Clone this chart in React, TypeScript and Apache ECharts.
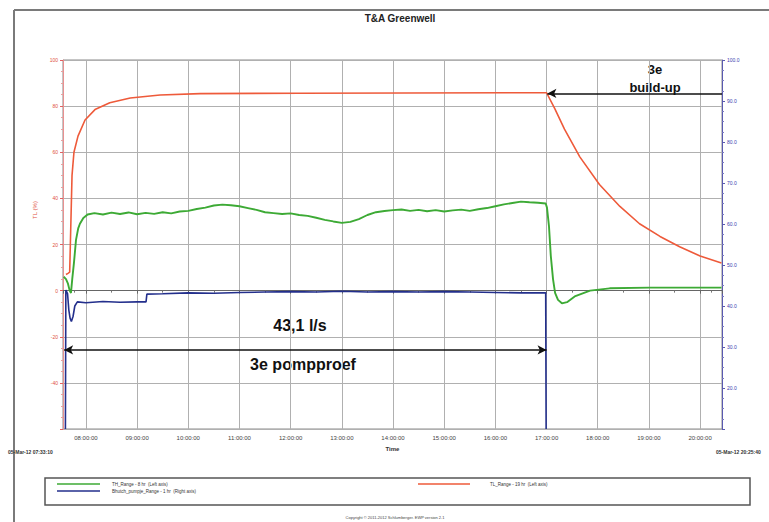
import React, { useEffect, useRef } from "react";
import * as echarts from "echarts";

const DAY = [2012, 2, 5];
const T_START = "07:33:10";
const T_END = "20:25:40";

const redTimes = ["07:36:40","07:39:00","07:41:00","07:43:45","07:46:00","07:50:45","07:59:00","08:10:40","08:28:00","08:52:00","09:27:00","10:14:00","12:11:00","17:00:00","17:09:30","17:21:00","17:39:00","18:02:00","18:26:00","18:49:00","19:13:00","19:36:00","20:00:00","20:25:00"];
const redValues = [7,7.5,8,50,60,67,74,78.5,81.5,83.5,84.8,85.4,85.6,85.8,79,70,58,46,36.5,29,23.5,19,15,12];

const greenTimes = ["07:34:00","07:36:41","07:39:00","07:41:00","07:42:30","07:44:00","07:46:00","07:48:25","07:51:00","07:53:00","07:57:00","08:02:00",
"08:10","08:20","08:30","08:40","08:50","09:00","09:10","09:20","09:30","09:40","09:50","10:00","10:10","10:20","10:30","10:40","10:50","11:00","11:10","11:20","11:30","11:40","11:50","12:00","12:10","12:20","12:30","12:40","12:50","13:00","13:10","13:20","13:30","13:40","13:50","14:00","14:10","14:20","14:30","14:40","14:50","15:00","15:10","15:20","15:30","15:40","15:50","16:00","16:10","16:20","16:30","16:40","16:50","16:59",
"17:00:30","17:02:50","17:05:00","17:07:35","17:10:00","17:13:25","17:18:00","17:24:00","17:33:00","17:51:00","18:14:00","19:01:00","20:25:00"];
const greenValues = [6,5,3,0,-1,5,12,22,27,29,31.5,33,
33.6,33.0,33.8,33.2,33.9,33.1,33.7,33.3,34.0,33.5,34.3,34.6,35.4,36.0,36.9,37.3,37.0,36.6,35.8,35.0,34.0,33.6,33.2,33.5,32.8,32.4,31.6,30.7,30.0,29.4,29.8,31.0,32.8,34.0,34.5,34.9,35.2,34.6,35.0,34.4,34.9,34.3,34.8,35.1,34.6,35.3,35.8,36.6,37.4,38.0,38.6,38.3,38.1,37.8,
36,28,15,5,-1,-4,-5.5,-5,-2.5,0,1,1.3,1.3];

const blueTimes = ["07:36:00","07:36:30","07:38:30","07:40:00","07:41:30","07:43:00","07:45:00","07:47:00","07:50:00","08:00","08:20","08:40","09:00","09:10:30","09:11:30","09:30","10:00","10:30","11:00","11:30","12:00","12:30","13:00","13:30","14:00","14:30","15:00","15:30","16:00","16:30","16:59","16:59:30"];
const blueValues = [10,43.9,43.0,39,37,36.2,37.5,40.0,41.0,40.8,41.1,40.9,41.0,41.0,42.9,43.0,43.2,43.1,43.3,43.4,43.5,43.4,43.6,43.4,43.5,43.4,43.5,43.4,43.3,43.2,43.2,10];

const leftTicks = { min: -60, max: 100, interval: 20 };
const rightTicks = { min: 10, max: 100, interval: 10 };

const ARROW_PUMP = { from: "07:34:30", to: "17:00:00", level: -25.7 };
const ARROW_BUILD = { from: "20:25:40", to: "17:01:00", level: 85.5 };

function ts(hms: string) {
  const p = hms.split(":").map(Number);
  return Date.UTC(DAY[0], DAY[1], DAY[2], p[0], p[1], p[2] || 0);
}
function pad(n: number) {
  return n < 10 ? "0" + n : "" + n;
}
function zip(t: string[], v: number[]) {
  return t.map((x, i) => [ts(x), v[i]]);
}

export default function App() {
  const ref = useRef<HTMLDivElement>(null);
  useEffect(() => {
    const chart = echarts.init(ref.current!, null, { renderer: "svg" });
    const font = "Arial, 'Liberation Sans', sans-serif";
    chart.setOption({
      animation: false,
      useUTC: true,
      backgroundColor: "#ffffff",
      grid: {
        left: 63, right: 47, top: 60, bottom: 93, show: true,
        borderColor: "#8a8a8a", borderWidth: 1,
      },
      xAxis: {
        type: "time",
        min: ts(T_START),
        max: ts(T_END),
        minInterval: 3600000,
        maxInterval: 3600000,
        name: "Time",
        nameLocation: "middle",
        nameGap: 17,
        nameTextStyle: { fontSize: 6, fontWeight: "bold", color: "#333", fontFamily: font },
        axisLine: { lineStyle: { color: "#666" } },
        axisTick: { show: true, length: 3, lineStyle: { color: "#666" } },
        minorTick: { show: true, splitNumber: 2, length: 2, lineStyle: { color: "#777" } },
        axisLabel: {
          fontSize: 6, color: "#444", fontFamily: font, margin: 6,
          showMinLabel: false, showMaxLabel: false,
          formatter: (val: number) => {
            const d = new Date(val);
            return pad(d.getUTCHours()) + ":" + pad(d.getUTCMinutes()) + ":" + pad(d.getUTCSeconds());
          },
        },
        splitLine: { show: true, lineStyle: { color: "#b0b0b0", width: 1 } },
      },
      yAxis: [
        {
          type: "value",
          min: leftTicks.min, max: leftTicks.max, interval: leftTicks.interval,
          axisLine: { show: true, lineStyle: { color: "#e89090" } },
          axisTick: { show: true, length: 3, lineStyle: { color: "#e06060" } },
          minorTick: { show: true, splitNumber: 4, length: 2, lineStyle: { color: "#e8a0a0" } },
          axisLabel: { fontSize: 5, color: "#e05040", fontFamily: font, showMinLabel: false, margin: 5 },
          splitLine: { show: true, lineStyle: { color: "#b0b0b0", width: 1 } },
        },
        {
          type: "value",
          min: rightTicks.min, max: rightTicks.max, interval: rightTicks.interval,
          position: "right",
          axisLine: { show: true, lineStyle: { color: "#5a5ab0" } },
          axisTick: { show: true, length: 3, lineStyle: { color: "#5a5ab0" } },
          minorTick: { show: true, splitNumber: 4, length: 2, lineStyle: { color: "#7a7ac0" } },
          axisLabel: {
            fontSize: 5, color: "#3b3bb0", fontFamily: font, showMinLabel: false, margin: 5,
            formatter: (v: number) => v.toFixed(1),
          },
          splitLine: { show: false },
        },
      ],
      series: [
        {
          name: "TH_Range",
          type: "line",
          yAxisIndex: 0,
          showSymbol: false,
          symbol: "none",
          data: zip(greenTimes, greenValues),
          lineStyle: { color: "#3daa35", width: 1.9 },
          z: 3,
        },
        {
          name: "Bhutch_pumpje_Range",
          type: "line",
          yAxisIndex: 1,
          showSymbol: false,
          symbol: "none",
          data: zip(blueTimes, blueValues),
          lineStyle: { color: "#232f8c", width: 1.6 },
          z: 4,
        },
        {
          name: "TL_Range",
          type: "line",
          yAxisIndex: 0,
          showSymbol: false,
          symbol: "none",
          data: zip(redTimes, redValues),
          lineStyle: { color: "#ee5a3a", width: 1.6 },
          z: 3,
          markLine: {
            silent: true,
            symbolSize: [7, 9],
            label: { show: false },
            lineStyle: { color: "#111", width: 1.5, type: "solid" },
            data: [
              [
                { coord: [ts(ARROW_PUMP.from), ARROW_PUMP.level], symbol: "arrow" },
                { coord: [ts(ARROW_PUMP.to), ARROW_PUMP.level], symbol: "arrow" },
              ],
              [
                { coord: [ts(ARROW_BUILD.from), ARROW_BUILD.level], symbol: "none" },
                { coord: [ts(ARROW_BUILD.to), ARROW_BUILD.level], symbol: "arrow" },
              ],
            ],
          },
        },
      ],
      graphic: [
        { type: "line", shape: { x1: 14, y1: 10, x2: 769, y2: 10 }, style: { stroke: "#7a7a7a", lineWidth: 2 } },
        { type: "line", shape: { x1: 14, y1: 10, x2: 14, y2: 522 }, style: { stroke: "#7a7a7a", lineWidth: 2 } },
        { type: "text", x: 400, y: 18, style: { text: "T&A Greenwell", font: "bold 10px Arial, 'Liberation Sans', sans-serif", fill: "#222", textAlign: "center", textVerticalAlign: "middle" } },
        { type: "text", x: 35, y: 210, rotation: Math.PI / 2, style: { text: "TL (%)", font: "6px Arial, 'Liberation Sans', sans-serif", fill: "#e05040", textAlign: "center", textVerticalAlign: "middle" } },
        { type: "text", x: 300, y: 325, style: { text: "43,1 l/s", font: "bold 16px Arial, 'Liberation Sans', sans-serif", fill: "#111", textAlign: "center", textVerticalAlign: "middle" } },
        { type: "text", x: 303, y: 364, style: { text: "3e pompproef", font: "bold 16px Arial, 'Liberation Sans', sans-serif", fill: "#111", textAlign: "center", textVerticalAlign: "middle" } },
        { type: "text", x: 655, y: 69, style: { text: "3e", font: "bold 13px Arial, 'Liberation Sans', sans-serif", fill: "#111", textAlign: "center", textVerticalAlign: "middle" } },
        { type: "text", x: 655, y: 87, style: { text: "build-up", font: "bold 13px Arial, 'Liberation Sans', sans-serif", fill: "#111", textAlign: "center", textVerticalAlign: "middle" } },
        { type: "text", x: 8, y: 452, style: { text: "05-Mar-12 07:33:10", font: "bold 5px Arial, 'Liberation Sans', sans-serif", fill: "#333", textVerticalAlign: "middle" } },
        { type: "text", x: 716, y: 452, style: { text: "05-Mar-12 20:25:40", font: "bold 5px Arial, 'Liberation Sans', sans-serif", fill: "#333", textVerticalAlign: "middle" } },
        { type: "rect", shape: { x: 45, y: 478, width: 705, height: 27 }, style: { fill: "none", stroke: "#555", lineWidth: 1.5 } },
        { type: "line", shape: { x1: 57, y1: 484, x2: 100, y2: 484 }, style: { stroke: "#3daa35", lineWidth: 1.6 } },
        { type: "line", shape: { x1: 57, y1: 491, x2: 100, y2: 491 }, style: { stroke: "#232f8c", lineWidth: 1.6 } },
        { type: "line", shape: { x1: 418, y1: 484, x2: 470, y2: 484 }, style: { stroke: "#ee5a3a", lineWidth: 1.6 } },
        { type: "text", x: 112, y: 484, style: { text: "TH_Range - 8 hr  (Left axis)", font: "4.5px Arial, 'Liberation Sans', sans-serif", fill: "#333", textVerticalAlign: "middle" } },
        { type: "text", x: 112, y: 491, style: { text: "Bhutch_pumpje_Range - 1 hr  (Right axis)", font: "4.5px Arial, 'Liberation Sans', sans-serif", fill: "#333", textVerticalAlign: "middle" } },
        { type: "text", x: 490, y: 484, style: { text: "TL_Range - 19 hr  (Left axis)", font: "4.5px Arial, 'Liberation Sans', sans-serif", fill: "#333", textVerticalAlign: "middle" } },
        { type: "text", x: 395, y: 517, style: { text: "Copyright © 2011-2012 Schlumberger. EWP version 2.1", font: "4px Arial, 'Liberation Sans', sans-serif", fill: "#444", textAlign: "center", textVerticalAlign: "middle" } },
      ],
    });
    return () => chart.dispose();
  }, []);
  return (
    <div
      ref={ref}
      style={{ position: "fixed", left: 0, top: 0, width: 769, height: 522, background: "#fff" }}
    />
  );
}
